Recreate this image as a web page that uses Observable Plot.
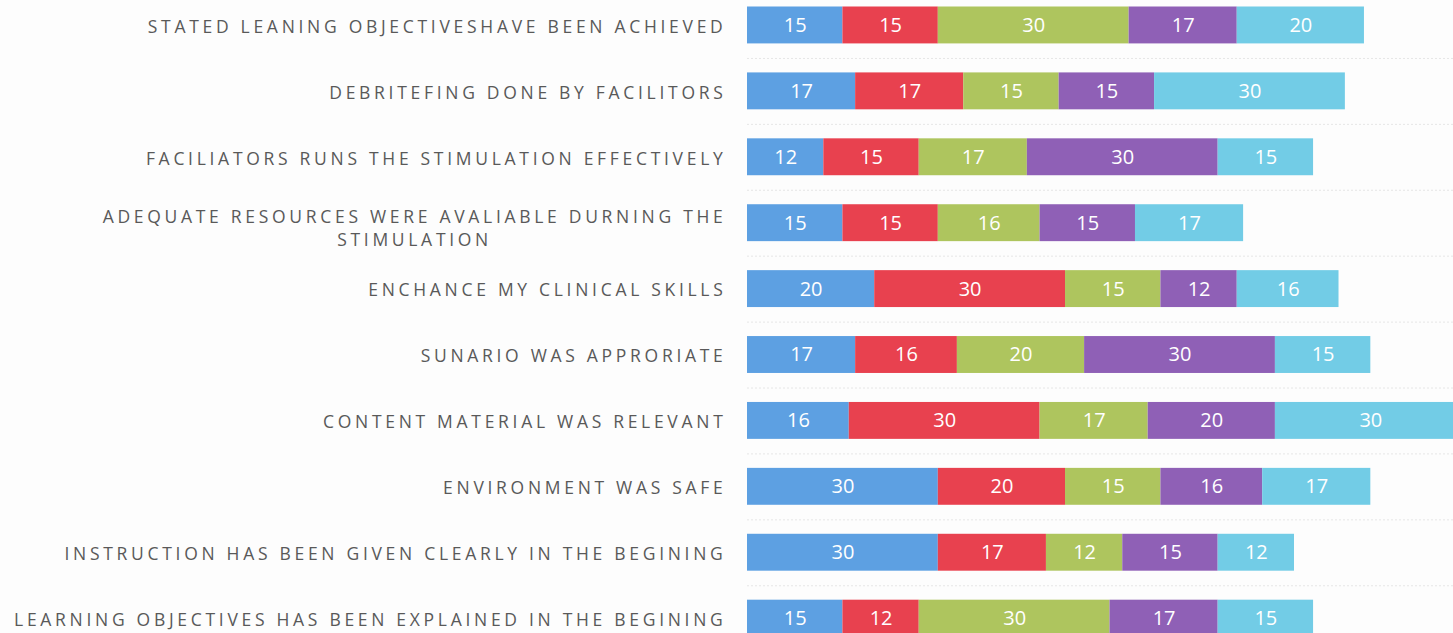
<!DOCTYPE html>
<html>
<head>
<meta charset="utf-8">
<script src="https://cdn.jsdelivr.net/npm/d3@7"></script>
<script src="https://cdn.jsdelivr.net/npm/@observablehq/plot@0.6"></script>
<style>
  html, body { margin: 0; padding: 0; background: #fdfdfd; }
  #chart svg { display: block; }
</style>
</head>
<body>
<div id="chart"></div>
<script>
const questions = [
  "STATED LEANING OBJECTIVESHAVE BEEN ACHIEVED",
  "DEBRITEFING DONE BY FACILITORS",
  "FACILIATORS RUNS THE STIMULATION EFFECTIVELY",
  "ADEQUATE RESOURCES WERE AVALIABLE DURNING THE\nSTIMULATION",
  "ENCHANCE MY CLINICAL SKILLS",
  "SUNARIO WAS APPRORIATE",
  "CONTENT MATERIAL WAS RELEVANT",
  "ENVIRONMENT WAS SAFE",
  "INSTRUCTION HAS BEEN GIVEN CLEARLY IN THE BEGINING",
  "LEARNING OBJECTIVES HAS BEEN EXPLAINED IN THE BEGINING"
];
const seriesNames = ["S1", "S2", "S3", "S4", "S5"];
const s1 = [15, 17, 12, 15, 20, 17, 16, 30, 30, 15];
const s2 = [15, 17, 15, 15, 30, 16, 30, 20, 17, 12];
const s3 = [30, 15, 17, 16, 15, 20, 17, 15, 12, 30];
const s4 = [17, 15, 30, 15, 12, 30, 20, 16, 15, 17];
const s5 = [20, 30, 15, 17, 16, 15, 30, 17, 12, 15];
const seriesColors = ["#5da0e2", "#e8414f", "#aec55e", "#8f60b6", "#72cce6"];

const allSeries = [s1, s2, s3, s4, s5];
const data = [];
questions.forEach((q, i) => {
  allSeries.forEach((s, j) => data.push({q, series: seriesNames[j], value: s[i]}));
});

const plot = Plot.plot({
  width: 1453,
  height: 633,
  marginLeft: 747,
  marginRight: 0,
  marginTop: 0,
  marginBottom: 0,
  style: {background: "transparent", overflow: "hidden"},
  x: {domain: [0, 111], axis: null},
  y: {domain: questions, range: [6.5, 636.6], paddingInner: 0.44, paddingOuter: 0, round: false, label: null},
  color: {domain: seriesNames, range: seriesColors},
  marks: [
    Plot.ruleY(questions.slice(0, -1), {y: d => d, dy: 33, x1: 0, x2: 111, stroke: "#e6e6e6", strokeDasharray: "2,2"}),
    Plot.barX(data, Plot.stackX({x: "value", y: "q", fill: "series", order: null})),
    Plot.textX(data, Plot.stackX({x: "value", y: "q", text: d => String(d.value), order: null,
      fill: "white", fontSize: 20, fontFamily: "Open Sans, sans-serif"})),
    Plot.axisY({tickSize: 0, tickPadding: 21, fontSize: 17.5, lineHeight: 1.3, fontFamily: "Open Sans, sans-serif",
      fill: "#595959", label: null})
  ]
});

document.getElementById("chart").appendChild(plot);

// style y-axis labels: letter spacing, and center wrapped lines like the original
const axisTexts = plot.querySelectorAll("g[aria-label='y-axis tick label'] text");
axisTexts.forEach(t => {
  t.style.letterSpacing = "3.7px";
  const spans = t.querySelectorAll("tspan");
  if (spans.length > 1) {
    const w = spans[0].getComputedTextLength();
    t.setAttribute("text-anchor", "middle");
    spans.forEach(s => {
      s.setAttribute("x", (parseFloat(s.getAttribute("x")) || 0) - w / 2);
    });
    spans[0].setAttribute("dy", (parseFloat(spans[0].getAttribute("dy")) || 0) + 0.25 + "em");
  }
});
</script>
</body>
</html>
